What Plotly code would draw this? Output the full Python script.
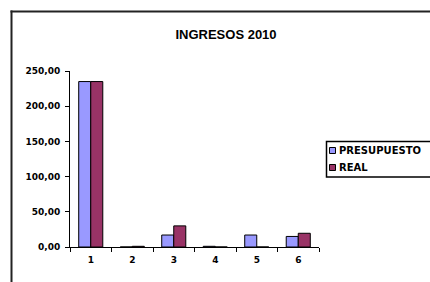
import plotly.graph_objects as go

categories = ["1", "2", "3", "4", "5", "6"]
presupuesto = [235, 0, 17, 1, 17, 15]
real = [235, 1, 30, 0, 0, 19.5]
series_names = ["PRESUPUESTO", "REAL"]
series_colors = ["#9999FF", "#993366"]

title_font = "Liberation Sans, Arial, sans-serif"
tick_font = "DejaVu Sans, Verdana, sans-serif"

fig = go.Figure()
for name, vals, col in zip(series_names, [presupuesto, real], series_colors):
    fig.add_trace(go.Bar(name=name, x=categories, y=vals, showlegend=False,
                         marker=dict(color=col, line=dict(color="black", width=1))))

L, R, T, B = 70, 111, 71, 35
W, H = 430, 282
pw, ph = W - L - R, H - T - B


def px_x(p):
    return (p - L) / pw


def px_y(p):
    return (H - B - p) / ph


border = dict(color="#222", width=2)
shapes = [
    # outer chart border: left and top edges (others fall outside the image)
    dict(type="line", xref="paper", yref="paper",
         x0=px_x(11.5), x1=px_x(11.5), y0=px_y(290), y1=px_y(10.5),
         line=border, layer="above"),
    dict(type="line", xref="paper", yref="paper",
         x0=px_x(10.5), x1=px_x(440), y0=px_y(11.5), y1=px_y(11.5),
         line=border, layer="above"),
    # legend box
    dict(type="rect", xref="paper", yref="paper",
         x0=px_x(326.5), x1=px_x(450), y0=px_y(177), y1=px_y(141.5),
         line=dict(color="black", width=1.5), fillcolor="white", layer="above"),
]
annotations = []
row_y = [150.5, 167.5]
for name, col, yy in zip(series_names, series_colors, row_y):
    shapes.append(dict(type="rect", xref="paper", yref="paper",
                       x0=px_x(329.5), x1=px_x(335.5), y0=px_y(yy + 3), y1=px_y(yy - 3),
                       line=dict(color="black", width=1), fillcolor=col, layer="above"))
    annotations.append(dict(text=name, xref="paper", yref="paper", x=px_x(337), y=px_y(yy),
                            xanchor="left", yanchor="middle", showarrow=False,
                            font=dict(family=tick_font, size=10, color="black", weight="bold")))

fig.update_layout(
    width=W, height=H,
    margin=dict(l=L, r=R, t=T, b=B),
    paper_bgcolor="white", plot_bgcolor="white",
    barmode="group", bargap=0.42, bargroupgap=0,
    separators=",.",
    title=dict(text="INGRESOS 2010", x=226 / W, xanchor="center", y=1 - 34 / H, yanchor="middle",
               font=dict(family=title_font, size=13, color="black", weight="bold")),
    showlegend=False,
    xaxis=dict(type="category", showline=True, linecolor="black", linewidth=1,
               ticks="outside", tickson="boundaries", ticklen=4, tickcolor="black",
               tickfont=dict(family=tick_font, size=9, color="black", weight="bold"),
               ticklabelstandoff=4, automargin=False,
               showgrid=False, zeroline=False),
    yaxis=dict(range=[0, 250], dtick=50, tickformat=".2f", showline=True, linecolor="black",
               linewidth=1, ticks="outside", ticklen=4, tickcolor="black",
               tickfont=dict(family=tick_font, size=9, color="black", weight="bold"),
               ticklabelstandoff=3, automargin=False,
               showgrid=False, zeroline=False),
    shapes=shapes,
    annotations=annotations,
)

fig.write_html("out.html", config={"displayModeBar": False},
               post_script="document.body.style.margin='0';document.body.style.overflow='hidden';")
